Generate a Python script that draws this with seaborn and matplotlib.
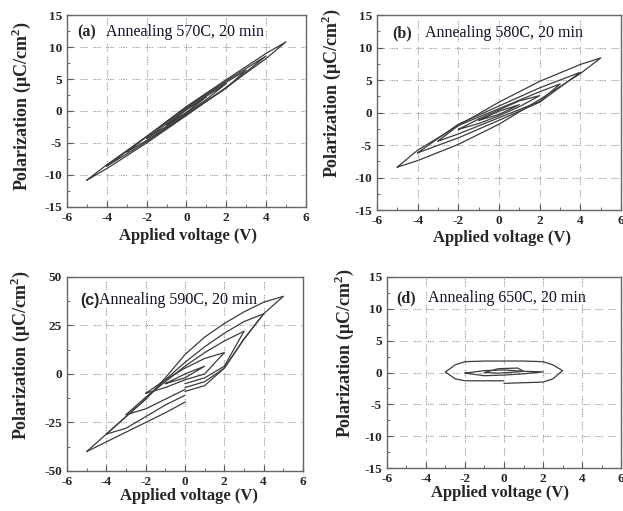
import pandas as pd
import seaborn as sns
import matplotlib.pyplot as plt
from matplotlib.ticker import MultipleLocator

# ---- (a) annealing 570C, loops 1..5 V (voltages ascending; lower / upper branch)
a_v1 = [-1, 0, 1]
a_lo1 = [-2.2, -0.2, 2.2]
a_up1 = [-2.2, 0.2, 2.2]
a_v2 = [-2, -1, 0, 1, 2]
a_lo2 = [-4.3, -2.4, -0.3, 1.8, 4.3]
a_up2 = [-4.3, -2.0, 0.3, 2.3, 4.3]
a_v3 = [-3, -2, 0, 2, 3]
a_lo3 = [-6.4, -4.6, -0.5, 3.6, 6.4]
a_up3 = [-6.4, -4.0, 0.5, 4.5, 6.4]
a_v4 = [-4, -2, 0, 2, 4]
a_lo4 = [-8.6, -4.8, -0.6, 3.6, 8.6]
a_up4 = [-8.6, -4.0, 0.6, 4.7, 8.6]
a_v5 = [-5, -4, -2, 0, 2, 4, 5]
a_lo5 = [-10.8, -9.0, -5.0, -0.7, 3.7, 8.2, 10.8]
a_up5 = [-10.8, -8.4, -4.0, 0.7, 4.9, 9.0, 10.8]

# ---- (b) annealing 580C
b_v1 = [-1, 0, 1]
b_lo1 = [-1.2, -0.3, 1.2]
b_up1 = [-1.2, 0.2, 1.2]
b_v2 = [-2, -1, 0, 1, 2]
b_lo2 = [-2.6, -1.7, -0.5, 0.9, 2.6]
b_up2 = [-2.6, -1.0, 0.4, 1.8, 2.6]
b_v3 = [-3, -2, 0, 2, 3]
b_lo3 = [-4.4, -3.3, -0.8, 1.7, 4.4]
b_up3 = [-4.4, -2.0, 0.6, 3.2, 4.4]
b_v4 = [-4, -2, 0, 2, 4]
b_lo4 = [-6.2, -3.9, -1.2, 1.6, 6.2]
b_up4 = [-6.2, -1.8, 1.0, 3.8, 6.2]
b_v5 = [-5, -4, -2, 0, 2, 4, 5]
b_lo5 = [-8.4, -7.4, -4.9, -1.8, 2.0, 6.0, 8.4]
b_up5 = [-8.4, -5.8, -2.0, 1.6, 4.8, 7.4, 8.4]

# ---- (c) annealing 590C, lower branch broken at 0 V
c_v1 = [-1, 0, 1]
c_lo1 = [-5, -2, 4]
c_up1 = [-5, 0, 4]
c_v2 = [-2, -1, 0, 1, 2]
c_lo2 = [-10, -7, -3, 0, 11]
c_up2 = [-10, -3, 3, 8, 11]
c_v3 = [-3, -2, -1, 0, 1, 2, 3]
c_lo3n = [-21, -18, -13, -8]
c_lo3p = [-5, -2, 4, 22]
c_up3 = [-21, -12, -4, 4, 11, 17, 22]
c_v4 = [-4, -3, -2, -1, 0, 1, 2, 3, 4]
c_lo4n = [-31, -28, -22, -16, -11]
c_lo4p = [-7, -4, 3, 18, 31]
c_up4 = [-31, -22, -13, -3, 6, 14, 21, 27, 31]
c_v5 = [-5, -4, -3, -2, -1, 0, 1, 2, 3, 4, 5]
c_lo5n = [-40, -35, -30, -25, -20, -14.5]
c_lo5p = [-9, -6, 3, 18, 31, 40]
c_up5 = [-40, -31, -22, -13, -2, 10, 19, 26, 32, 37, 40]

# ---- (d) annealing 650C
d_v1 = [-1, -0.3, 0.7, 1]
d_lo1 = [0.0, -0.1, 0.1, 0.2]
d_up1 = [0.0, 0.6, 0.7, 0.2]
d_v2 = [-2, -1, 0, 1, 2]
d_lo2 = [-0.1, -0.5, -0.4, -0.2, 0.1]
d_up2 = [-0.1, 0.3, 0.4, 0.2, 0.1]
d_v3 = [-3, -2.5, -2, -1, 0, 1, 2, 2.5, 3]
d_lo3n = [0.1, -1.0, -1.3, -1.3, -1.3]
d_lo3p = [-1.7, -1.6, -1.5, -1.0, 0.3]
d_up3 = [0.1, 1.2, 1.7, 1.8, 1.8, 1.8, 1.7, 1.2, 0.3]

LINE = '#3c3c3c'
GRID = '#8a8a8a'


# closed loop: lower branch going up, then upper branch coming back
def closed(v, lo, up):
    return (v + v[::-1], lo + up[::-1])


# broken loop: upper branch plus the two halves of the lower branch
def broken(v, lo_neg, lo_pos, up):
    n = len(lo_neg)
    return [(v, up), (v[:n], lo_neg), (v[n - 1:], lo_pos)]


# Turn a list of (voltages, polarizations) pieces into a long dataframe
def loop_frame(pieces):
    rows = []
    for k, (v, p) in enumerate(pieces):
        for x, y in zip(v, p):
            rows.append({'V': x, 'P': y, 'seg': k})
    return pd.DataFrame(rows)


def hysteresis(fig, box, pieces, ylim, ystep, tag, text, tag_pos, text_x,
               ylab_xy, xlab_xy, tag_sans=False):
    ax = fig.add_axes(box)
    df = loop_frame(pieces)
    sns.lineplot(data=df, x='V', y='P', units='seg', estimator=None, sort=False,
                 color=LINE, lw=0.9, ax=ax, legend=False)

    ax.set_xlim(-6, 6)
    ax.set_ylim(-ylim, ylim)
    ax.xaxis.set_major_locator(MultipleLocator(2))
    ax.xaxis.set_minor_locator(MultipleLocator(1))
    ax.yaxis.set_major_locator(MultipleLocator(ystep))
    ax.yaxis.set_minor_locator(MultipleLocator(ystep / 2))
    ax.tick_params(which='both', direction='in', color='#555555', labelsize=9.5)
    ax.tick_params(which='major', length=4)
    ax.tick_params(which='minor', length=2)
    for lab in ax.get_xticklabels() + ax.get_yticklabels():
        lab.set_fontweight('bold')

    # dotted, broken grid like the original
    ax.grid(True, which='major', color=GRID, lw=0.8,
            linestyle=(0, (0.7, 0.8, 0.7, 0.8, 0.7, 0.8, 0.7, 0.8, 0.7, 5)))
    for s in ax.spines.values():
        s.set_color('#666666')
        s.set_linewidth(1.0)

    ax.set_xlabel('Applied voltage (V)', fontsize=12, fontweight='bold')
    ax.set_ylabel('Polarization (μC/cm$^\\mathbf{2}$)', fontsize=13, fontweight='bold')
    ax.xaxis.set_label_coords(*xlab_xy)
    ax.yaxis.set_label_coords(*ylab_xy)

    tag_family = ['Liberation Sans'] if tag_sans else ['Liberation Serif']
    ax.text(tag_pos[0], tag_pos[1], tag, transform=ax.transAxes, fontsize=11.5,
            fontweight='bold', family=tag_family, va='center', ha='left')
    ax.text(text_x, tag_pos[1], text, transform=ax.transAxes, fontsize=11.5,
            color='#101020', va='center', ha='left')
    return ax


def main():
    sns.set_style('ticks')
    plt.rcParams['font.family'] = ['Liberation Serif', 'DejaVu Serif']
    plt.rcParams['axes.unicode_minus'] = False
    plt.rcParams['mathtext.fontset'] = 'custom'
    plt.rcParams['mathtext.rm'] = 'Liberation Serif'
    plt.rcParams['mathtext.bf'] = 'Liberation Serif:bold'

    fig = plt.figure(figsize=(6.23, 5.11), dpi=100)

    pa = [closed(a_v1, a_lo1, a_up1), closed(a_v2, a_lo2, a_up2), closed(a_v3, a_lo3, a_up3),
          closed(a_v4, a_lo4, a_up4), closed(a_v5, a_lo5, a_up5)]
    hysteresis(fig, [0.1075, 0.595, 0.3835, 0.3756], pa, 15, 5, '(a)',
               'Annealing 570C, 20 min', (0.042, 0.911), 0.163,
               (-0.142, 0.526), (0.506, -0.109))

    pb = [closed(b_v1, b_lo1, b_up1), closed(b_v2, b_lo2, b_up2), closed(b_v3, b_lo3, b_up3),
          closed(b_v4, b_lo4, b_up4), closed(b_v5, b_lo5, b_up5)]
    hysteresis(fig, [0.605, 0.589, 0.392, 0.3816], pb, 15, 5, '(b)',
               'Annealing 580C, 20 min', (0.064, 0.908), 0.197,
               (-0.138, 0.6), (0.512, -0.103))

    pc = [closed(c_v1, c_lo1, c_up1), closed(c_v2, c_lo2, c_up2)]
    pc += broken(c_v3, c_lo3n, c_lo3p, c_up3)
    pc += broken(c_v4, c_lo4n, c_lo4p, c_up4)
    pc += broken(c_v5, c_lo5n, c_lo5p, c_up5)
    hysteresis(fig, [0.1075, 0.0783, 0.3788, 0.3797], pc, 50, 25, '(c)',
               'Annealing 590C, 20 min', (0.055, 0.881), 0.137,
               (-0.148, 0.6), (0.515, -0.089), tag_sans=True)

    pd_ = [closed(d_v1, d_lo1, d_up1), closed(d_v2, d_lo2, d_up2)]
    pd_ += broken(d_v3, d_lo3n, d_lo3p, d_up3)
    hysteresis(fig, [0.621, 0.084, 0.376, 0.374], pd_, 15, 5, '(d)',
               'Annealing 650C, 20 min', (0.038, 0.888), 0.177,
               (-0.13, 0.6), (0.483, -0.089))

    fig.savefig('out.png', dpi=100)


if __name__ == "__main__":
    main()
